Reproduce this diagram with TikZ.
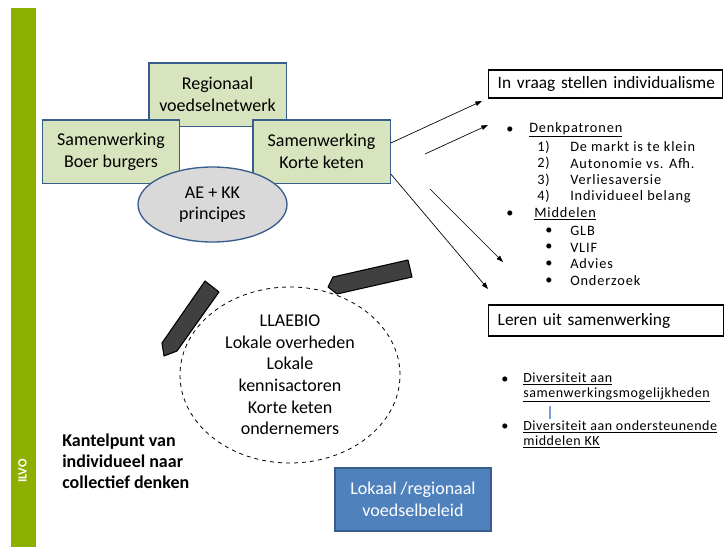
\documentclass[tikz,border=0pt]{standalone}
\usepackage{fontspec}
\setmainfont{Carlito}
\usetikzlibrary{arrows.meta,shapes.geometric}

\definecolor{boxgreen}{RGB}{215,228,189}
\definecolor{boxblue}{RGB}{79,129,189}
\definecolor{edgeblue}{RGB}{56,93,138}
\definecolor{ilvogreen}{RGB}{141,176,0}
\definecolor{blockgray}{RGB}{64,64,64}
\definecolor{cursorblue}{RGB}{120,160,212}

\tikzset{
  greenbox/.style={draw=edgeblue, line width=1pt, fill=boxgreen, align=center, inner sep=0pt,
    minimum width=103pt, minimum height=47.5pt, font=\fontsize{13.5}{16.5}\selectfont},
  titlebox/.style={draw=black, line width=1.1pt, anchor=west, align=left, inner xsep=6.75pt, inner ysep=0pt,
    font=\fontsize{13}{16}\selectfont},
  listtext/.style={anchor=west, inner sep=0pt, font=\fontsize{10.75}{12.5}\selectfont\addfontfeature{LetterSpace=6}},
  divtext/.style={anchor=west, inner sep=0pt, align=left, font=\fontsize{10.5}{11.25}\selectfont\addfontfeature{LetterSpace=4}},
  thinarrow/.style={line width=0.5pt, -{Triangle[length=5pt,width=3.5pt]}},
  blockarrow/.style={draw=black, line width=0.8pt, fill=blockgray, line join=round}
}

\begin{document}
\begin{tikzpicture}[x=0.75pt,y=0.75pt,yscale=-1,xscale=1]
\useasboundingbox (0,0) rectangle (726,547);

%Shape: Rectangle [ILVO bar]
\fill [ilvogreen] (11,8) rectangle (36,547);
% Text Node
\node (ilvo) [rotate=90, text=white, font=\fontsize{9.5}{11}\selectfont\bfseries, inner sep=0pt] at (22.5,471) {ILVO};

%Shape: Rectangle [green boxes]
\node (regio) [greenbox] at (217.5,94.5) {Regionaal\\voedselnetwerk};
\node (boer) [greenbox] at (111,151.5) {Samenwerking\\Boer burgers};
\node (korte) [greenbox] at (321.5,151.5) {Samenwerking\\Korte keten};
%Shape: Ellipse
\node (aekk) [ellipse, draw=edgeblue, line width=1pt, fill={rgb,255:red,217;green,217;blue,217}, inner sep=0pt,
  minimum width=111.75pt, minimum height=56.25pt, align=center, font=\fontsize{13.5}{15.5}\selectfont] at (212.5,204.5) {AE + KK\\principes};

%Shape: Ellipse [dashed]
\node (actors) [ellipse, draw=black, dashed, line width=0.6pt, inner sep=0pt, minimum width=165pt, minimum height=132pt,
  align=center, font=\fontsize{13.5}{16.2}\selectfont] at (290,375)
  {LLAEBIO\\Lokale overheden\\Lokale\\kennisactoren\\Korte keten\\ondernemers};

%Shape: Block arrows
\draw [blockarrow] (205,281) -- (219,292) -- (177,351) -- (164,356) -- (162,343) -- cycle ;
\draw [blockarrow] (408,260) -- (412,277) -- (337,294) -- (328,287) -- (333,277) -- cycle ;

%Shape: Rectangle [beleid]
\node (beleid) [draw=edgeblue, line width=1pt, fill=boxblue, text=white, align=center, inner sep=0pt,
  minimum width=117pt, minimum height=47.25pt, font=\fontsize{13.5}{16.5}\selectfont] at (413,499.5) {Lokaal /regionaal\\voedselbeleid};

% Text Node
\node (kantel) [anchor=west, align=left, inner sep=0pt, font=\fontsize{13.5}{15.75}\selectfont\bfseries] at (62,461)
  {Kantelpunt van\\individueel naar\\collectief denken};

%Shape: Rectangle [titles]
\node (vraag) [titlebox, text width=162pt, minimum height=21pt] at (488,84) {\mbox{In vraag stellen individualisme}};
\node (leren) [titlebox, text width=162.75pt, minimum height=23.25pt] at (488,320.5) {\mbox{Leren uit samenwerking}};

%Straight Lines [thin arrows]
\coordinate (tipvraag) at (482,101);
\coordinate (startdenk) at (425,154);
\coordinate (tipdenk) at (488,125);
\coordinate (startmid) at (430,189);
\coordinate (tipmid) at (503,262);
\coordinate (tipleren) at (488,289);
\draw [thinarrow] (korte.7) -- (tipvraag) ;
\draw [thinarrow] (startdenk) -- (tipdenk) ;
\draw [thinarrow] (startmid) -- (tipmid) ;
\draw [thinarrow] (korte.342) -- (tipleren) ;

% Text Node [Denkpatronen]
\node (b1) [listtext] at (506,130) {•};
\node (denk) [listtext] at (529,130) {\underline{Denkpatronen}};
\node (n1) [listtext] at (537,147) {1)};
\node (d1) [listtext] at (570,147) {De markt is te klein};
\node (n2) [listtext] at (537,163.5) {2)};
\node (d2) [listtext] at (570,163.5) {Autonomie vs. Afh.};
\node (n3) [listtext] at (537,180) {3)};
\node (d3) [listtext] at (570,180) {Verliesaversie};
\node (n4) [listtext] at (537,196.5) {4)};
\node (d4) [listtext] at (570,196.5) {Individueel belang};
% Text Node [Middelen]
\node (b2) [listtext] at (506,214) {•};
\node (midd) [listtext] at (534,214) {\underline{Middelen}};
\node (s1) [listtext] at (545,231) {•};
\node (m1) [listtext] at (570,231) {GLB};
\node (s2) [listtext] at (545,247.5) {•};
\node (m2) [listtext] at (570,247.5) {VLIF};
\node (s3) [listtext] at (545,264) {•};
\node (m3) [listtext] at (570,264) {Advies};
\node (s4) [listtext] at (545,281) {•};
\node (m4) [listtext] at (570,281) {Onderzoek};

% Text Node [Diversiteit]
\node (b3) [listtext] at (501,380) {•};
\node (div1) [divtext] at (523,387.5)
  {\underline{Diversiteit aan}\\\underline{samenwerkingsmogelijkheden}};
\node (b4) [listtext] at (501,427) {•};
\node (div2) [divtext] at (523,434.5)
  {\underline{Diversiteit aan ondersteunende}\\\underline{middelen KK}};
%Straight Lines [cursor]
\coordinate (curtop) at (550,406);
\coordinate (curbot) at (550,419);
\draw [cursorblue, line width=1pt] (curtop) -- (curbot) ;

\end{tikzpicture}
\end{document}
